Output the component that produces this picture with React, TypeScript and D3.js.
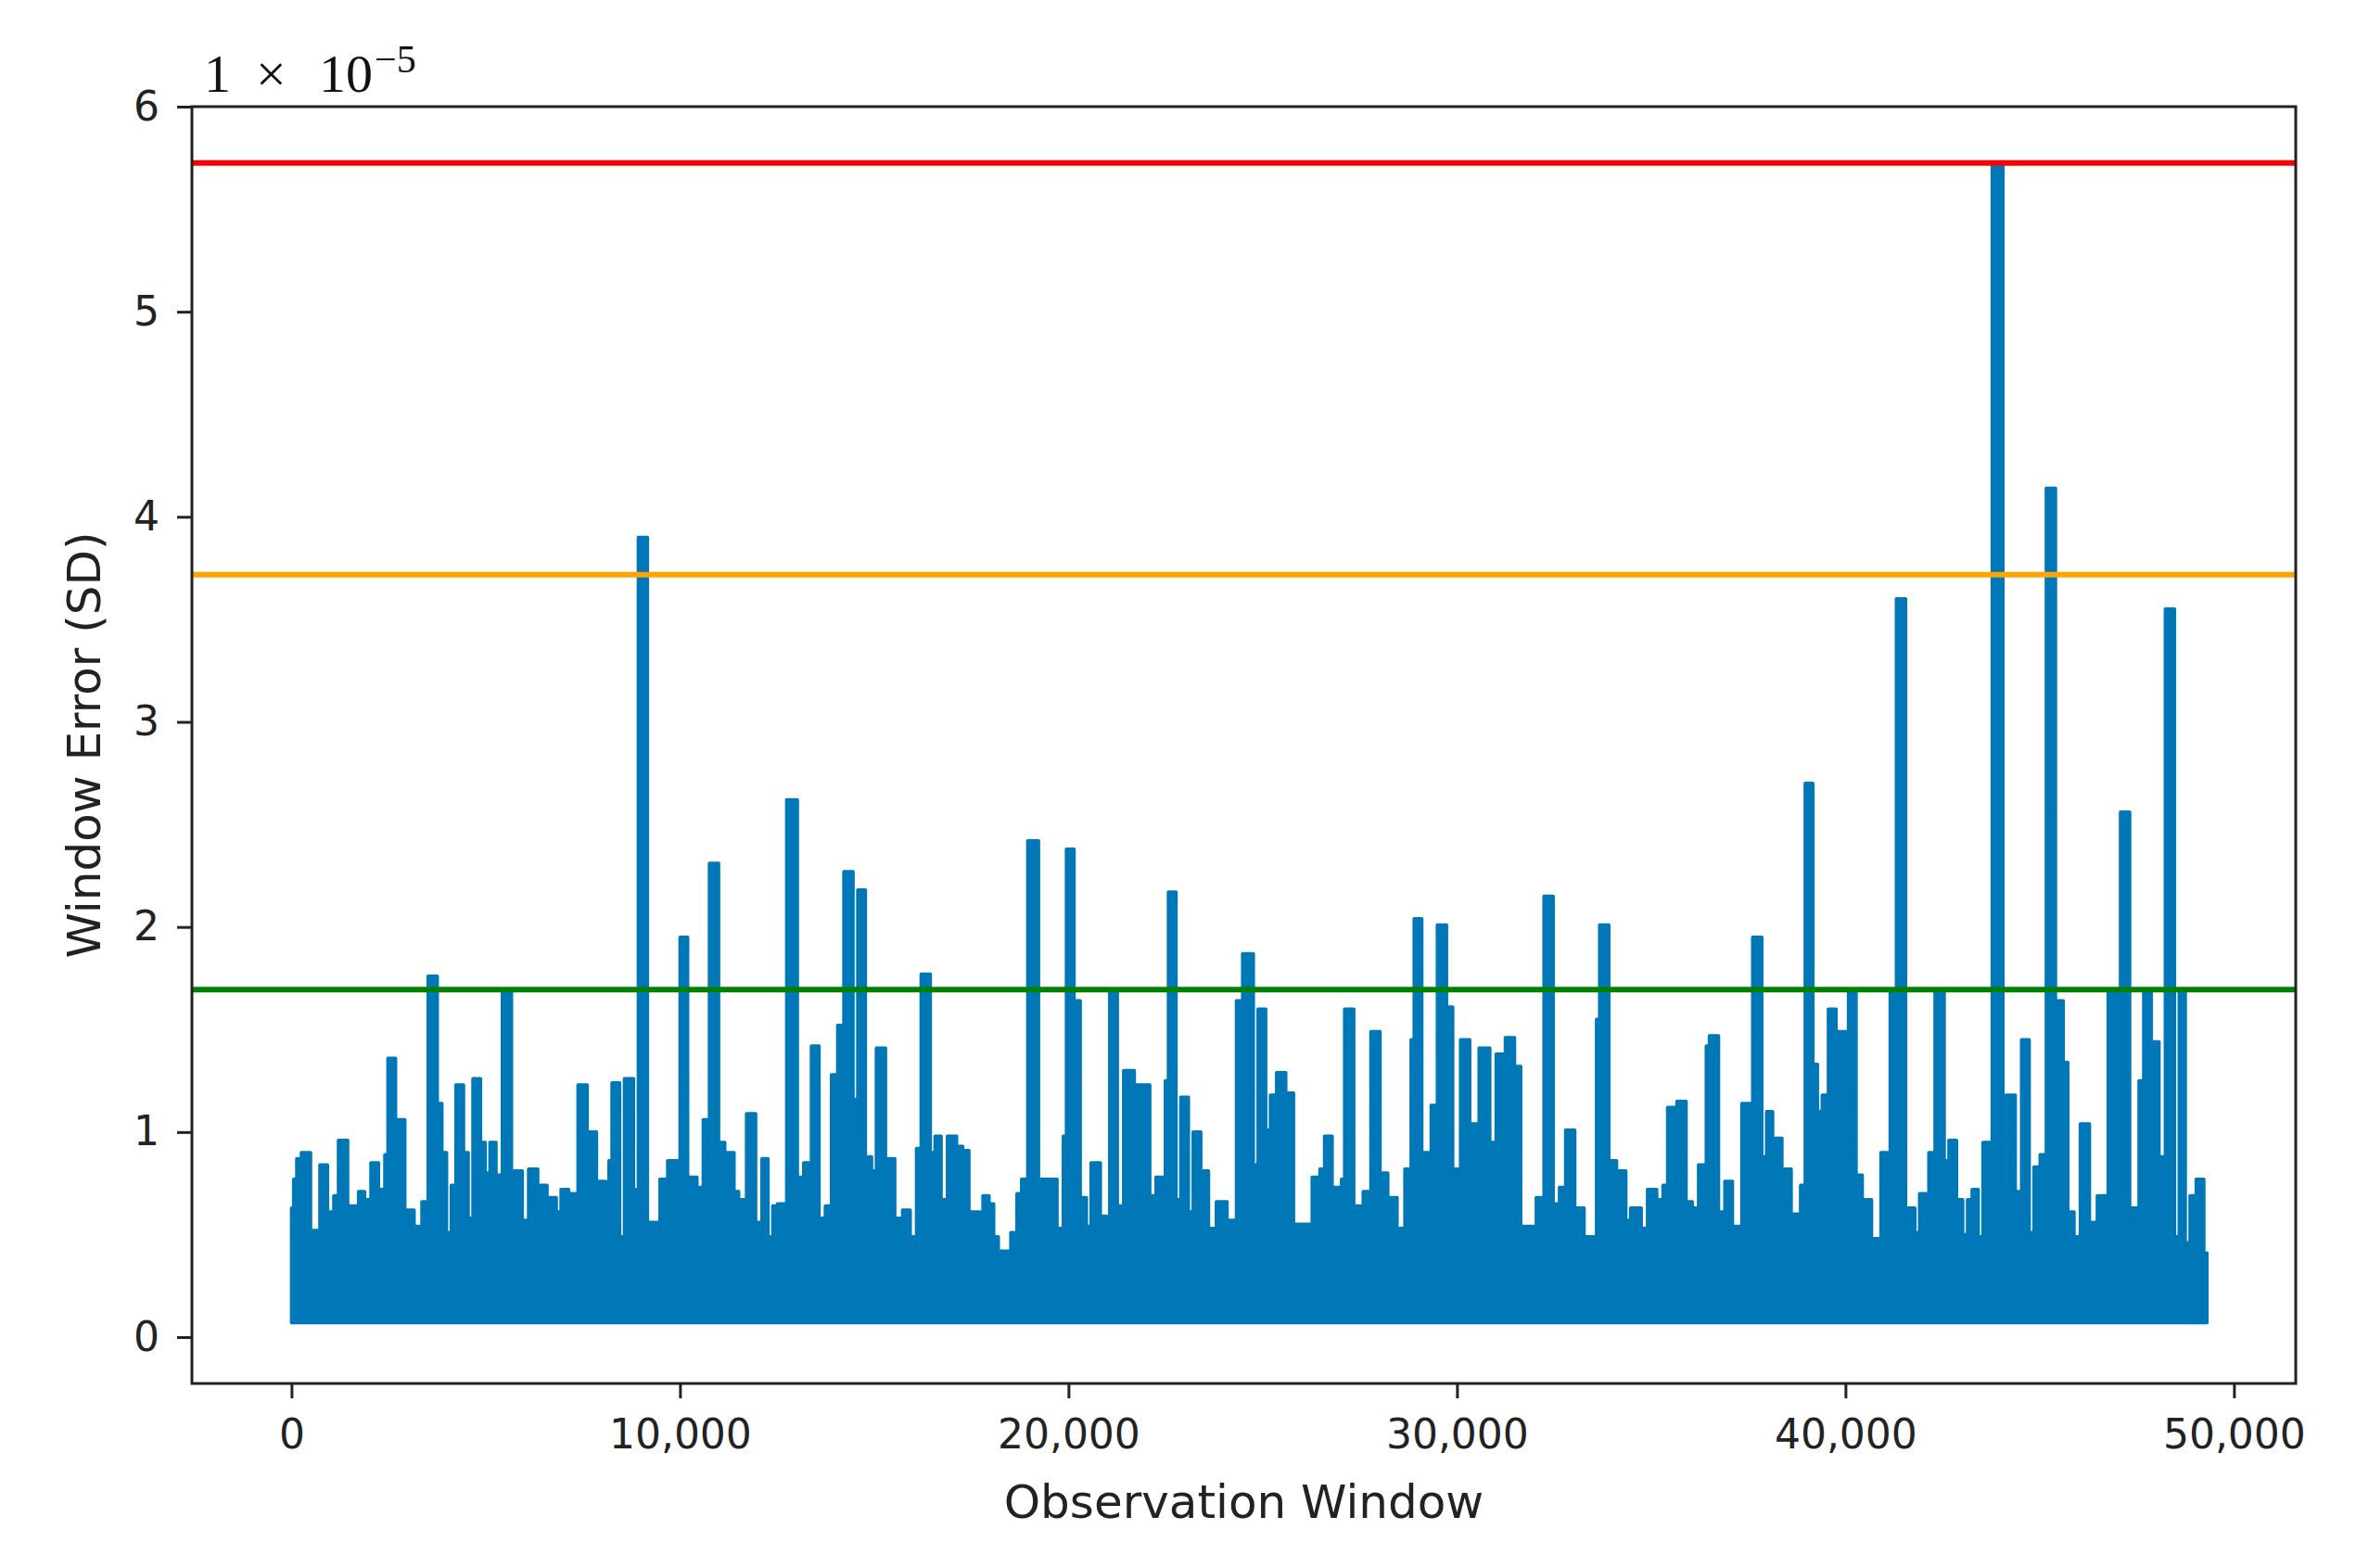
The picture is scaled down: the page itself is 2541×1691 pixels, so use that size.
import React, { useEffect, useRef } from 'react'
import * as d3 from 'd3'

const errorSteps: [number, number][] = [
    [0, 0.63], [54, 0.77], [134, 0.87], [253, 0.90], [492, 0.52], [730, 0.84], [929, 0.61], [1088, 0.69],
    [1208, 0.96], [1447, 0.64], [1725, 0.71], [1884, 0.67], [2043, 0.85], [2242, 0.72], [2401, 0.89], [2481, 1.36],
    [2680, 1.06], [2919, 0.62], [3157, 0.54], [3356, 0.66], [3515, 1.76], [3754, 1.14], [3873, 0.90], [3993, 0.51],
    [4112, 0.74], [4231, 1.23], [4430, 0.90], [4550, 0.58], [4669, 1.26], [4868, 0.95], [4987, 0.80], [5107, 0.95],
    [5266, 0.79], [5425, 1.69], [5664, 0.81], [5942, 0.57], [6101, 0.82], [6340, 0.74], [6579, 0.68], [6817, 0.61],
    [6937, 0.72], [7136, 0.70], [7374, 1.23], [7613, 1.00],
    [7852, 0.76], [8090, 0.62], [8170, 0.86], [8249, 1.24], [8448, 0.49], [8568, 1.26], [8806, 0.72], [8926, 3.90],
    [9164, 0.56], [9483, 0.77], [9682, 0.86], [10000, 1.95], [10199, 0.78], [10438, 0.73], [10597, 1.06], [10756, 2.31],
    [10995, 0.95], [11154, 0.90], [11392, 0.71], [11512, 0.67], [11711, 1.09], [11949, 0.56], [12109, 0.87], [12267, 0.49],
    [12387, 0.64], [12506, 0.65], [12745, 2.62], [13023, 0.78], [13183, 0.85], [13382, 1.42], [13580, 0.58], [13740, 0.64],
    [13899, 1.28], [14058, 1.52], [14217, 2.27], [14456, 1.16], [14575, 2.18], [14774, 0.88], [14933, 0.81], [15053, 1.41],
    [15291, 0.87], [15530, 0.58], [15729, 0.62], [15928, 0.49], [16087, 0.92],
    [16206, 1.77], [16445, 0.90], [16564, 0.98], [16723, 0.67], [16883, 0.98], [17121, 0.93], [17280, 0.91], [17439, 0.61],
    [17718, 0.60], [17797, 0.69], [17957, 0.65], [18076, 0.49], [18195, 0.42], [18514, 0.51], [18673, 0.70], [18792, 0.77],
    [18951, 2.42], [19230, 0.77], [19707, 0.53], [19866, 0.98], [19946, 2.38], [20145, 1.64], [20304, 0.68], [20463, 0.54],
    [20582, 0.85], [20821, 0.59], [20980, 0.44], [21060, 1.68], [21259, 0.64], [21418, 1.30], [21696, 1.23], [22094, 0.69],
    [22253, 0.78], [22492, 1.25], [22571, 2.17], [22770, 0.67], [22890, 1.17], [23089, 0.61], [23208, 1.00], [23407, 0.81],
    [23606, 0.53], [23805, 0.66], [24083, 0.57], [24322, 1.64],
    [24481, 1.87], [24760, 0.84], [24879, 1.60], [25078, 1.01], [25197, 1.18], [25356, 1.29], [25595, 1.19], [25794, 0.55],
    [26271, 0.78], [26470, 0.82], [26590, 0.98], [26788, 0.73], [27027, 0.77], [27107, 1.60], [27345, 0.64], [27584, 0.71],
    [27783, 1.49], [28022, 0.80], [28221, 0.68], [28459, 0.53], [28658, 0.82], [28818, 1.45], [28897, 2.04], [29096, 0.90],
    [29335, 1.13], [29494, 2.01], [29733, 1.61], [29892, 0.82], [30091, 1.45], [30329, 1.04], [30568, 1.41], [30847, 0.95],
    [31006, 1.38], [31244, 1.46], [31483, 1.32], [31642, 0.54], [32040, 0.68], [32239, 2.15], [32478, 0.65], [32637, 0.73],
    [32796, 1.01],
    [33034, 0.63], [33273, 0.49], [33591, 1.55], [33671, 2.01], [33910, 0.86], [34109, 0.81], [34347, 0.57], [34467, 0.63],
    [34745, 0.53], [34904, 0.72], [35143, 0.67], [35302, 0.74], [35421, 1.12], [35660, 1.15], [35899, 0.66], [36058, 0.63],
    [36217, 0.84], [36416, 1.42], [36496, 1.47], [36734, 0.61], [36894, 0.76], [37092, 0.54], [37331, 1.14], [37610, 1.95],
    [37848, 0.88], [37968, 1.10], [38127, 0.97], [38366, 0.82], [38604, 0.60], [38843, 0.74], [38962, 2.70], [39161, 1.33],
    [39280, 1.10], [39400, 1.18], [39559, 1.60], [39758, 1.49], [40076, 1.68], [40275, 0.79], [40434, 0.67], [40673, 0.48],
    [40912, 0.90], [41150, 1.68],
    [41310, 3.60], [41548, 0.63], [41787, 0.51], [41906, 0.70], [42145, 0.90], [42304, 1.68], [42543, 0.86], [42662, 0.96],
    [42861, 0.67], [43020, 0.50], [43140, 0.67], [43259, 0.72], [43418, 0.49], [43537, 0.95], [43776, 5.73], [44054, 0.71],
    [44134, 1.18], [44373, 0.71], [44532, 1.45], [44731, 0.51], [44850, 0.83], [45009, 0.89], [45168, 4.14], [45407, 1.64],
    [45606, 1.34], [45725, 0.61], [45885, 0.49], [46044, 1.04], [46282, 0.56], [46481, 0.69], [46760, 1.68], [47078, 2.56],
    [47317, 0.63], [47555, 1.25], [47675, 1.68], [47874, 1.44], [48073, 0.88], [48232, 3.55], [48471, 0.49], [48590, 1.68],
    [48749, 0.46], [48868, 0.69], [49027, 0.77], [49226, 0.41], [49306, 0.41],
]

// lowest error level of the dense band
const floorErr = 0.07

// horizontal threshold levels (x 1e-5), top to bottom
const thresholdValues = [5.725, 3.718, 1.695]
const thresholdColors = ['#ff0000', '#ffa500', '#008000']

const xTicks = [0, 10000, 20000, 30000, 40000, 50000]
const yTicks = [0, 1, 2, 3, 4, 5, 6]

const xLimits = [-2563, 51590]
const yLimits = [-0.226, 6]

export default function App() {

    const d3Ref = useRef<SVGSVGElement>(null)

    useEffect(() => {
        document.body.style.margin = '0'

        const width = 2541
        const height = 1691
        const plot = { left: 207, right: 2476, top: 115, bottom: 1492 }
        const blue = '#0077b7'
        const ink = '#222'

        const svg = d3.select(d3Ref.current!)
            .attr('width', width)
            .attr('height', height)
        svg.selectAll('*').remove()

        const x = d3.scaleLinear().domain(xLimits).range([plot.left, plot.right])
        const y = d3.scaleLinear().domain(yLimits).range([plot.bottom, plot.top])

        // signal
        const area = d3.area<[number, number]>()
            .curve(d3.curveStepAfter)
            .x(d => x(d[0]))
            .y0(y(floorErr))
            .y1(d => y(d[1]))

        svg.append('path')
            .datum(errorSteps)
            .attr('d', area)
            .attr('fill', blue)
            .attr('stroke', blue)
            .attr('stroke-width', 3.5)
            .attr('stroke-linejoin', 'round')

        // thresholds
        svg.append('g')
            .selectAll('line')
            .data(thresholdValues)
            .join('line')
            .attr('x1', plot.left)
            .attr('x2', plot.right)
            .attr('y1', d => y(d))
            .attr('y2', d => y(d))
            .attr('stroke', (_, i) => thresholdColors[i])
            .attr('stroke-width', 6)

        // frame
        svg.append('rect')
            .attr('x', plot.left)
            .attr('y', plot.top)
            .attr('width', plot.right - plot.left)
            .attr('height', plot.bottom - plot.top)
            .attr('fill', 'none')
            .attr('stroke', ink)
            .attr('stroke-width', 3)

        // axes
        const gx = svg.append('g')
            .attr('transform', `translate(0,${plot.bottom})`)
            .call(d3.axisBottom(x).tickValues(xTicks).tickSize(16).tickPadding(23).tickFormat(d3.format(',')))
        const gy = svg.append('g')
            .attr('transform', `translate(${plot.left},0)`)
            .call(d3.axisLeft(y).tickValues(yTicks).tickSize(16).tickPadding(19).tickFormat(d3.format('d')))

        for (const g of [gx, gy]) {
            g.select('.domain').remove()
            g.attr('font-family', 'DejaVu Sans').attr('font-size', 44)
            g.selectAll('line').attr('stroke', ink).attr('stroke-width', 3)
            g.selectAll('text').attr('fill', ink)
        }

        // axis labels
        svg.append('text')
            .attr('x', (plot.left + plot.right) / 2)
            .attr('y', 1637)
            .attr('text-anchor', 'middle')
            .attr('font-family', 'DejaVu Sans')
            .attr('font-size', 50)
            .attr('fill', ink)
            .text('Observation Window')

        svg.append('text')
            .attr('transform', `translate(108,${(plot.top + plot.bottom) / 2}) rotate(-90)`)
            .attr('text-anchor', 'middle')
            .attr('font-family', 'DejaVu Sans')
            .attr('font-size', 50)
            .attr('fill', ink)
            .text('Window Error (SD)')

        // offset text: 1 x 10^-5
        const off = svg.append('g')
            .attr('font-family', 'Liberation Serif')
            .attr('fill', '#111')
        off.append('text').attr('x', 220).attr('y', 99).attr('font-size', 58).text('1')
        off.append('text').attr('x', 276).attr('y', 99).attr('font-size', 58).text('×')
        off.append('text').attr('x', 344).attr('y', 99).attr('font-size', 58).text('10')
        off.append('text').attr('x', 404).attr('y', 78).attr('font-size', 42).text('−5')

    }, [])

    return (
        <div>
            <svg ref={d3Ref} style={{ display: 'block', background: '#fff' }}></svg>
        </div>
    )
}
